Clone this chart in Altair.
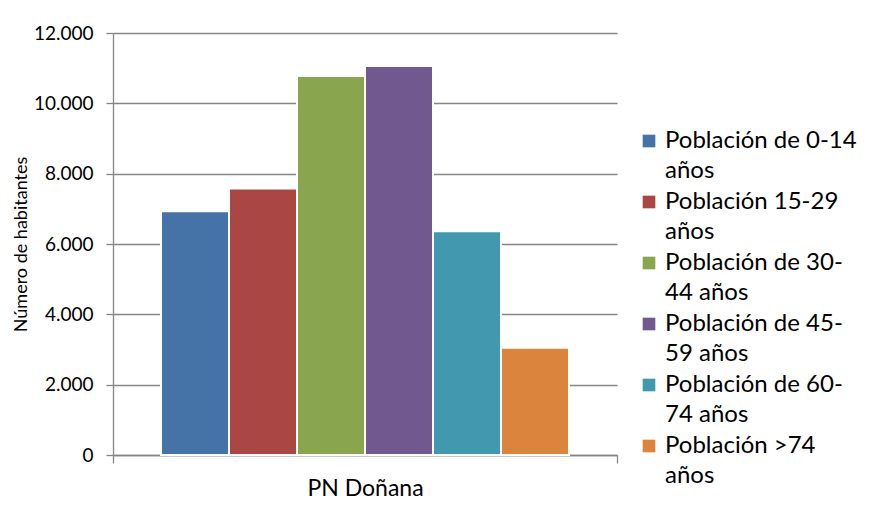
import json
import altair as alt
import pandas as pd

region = ["PN Doñana"]
groups = [
    "Población de 0-14 años",
    "Población 15-29 años",
    "Población de 30-44 años",
    "Población de 45-59 años",
    "Población de 60-74 años",
    "Población >74 años",
]
values = [6930, 7580, 10780, 11060, 6360, 3050]
colors = ["#4572A7", "#AA4643", "#89A54E", "#71588F", "#4198AF", "#DB843D"]
legend_lines = [
    ["Población de 0-14", "años"],
    ["Población 15-29", "años"],
    ["Población de 30-", "44 años"],
    ["Población de 45-", "59 años"],
    ["Población de 60-", "74 años"],
    ["Población >74", "años"],
]
y_ticks = [0, 2000, 4000, 6000, 8000, 10000, 12000]

df = pd.DataFrame({"region": region * len(groups), "group": groups, "value": values})

# legend label wrapping expression
expr = "datum.label"
for g, lines in reversed(list(zip(groups, legend_lines))):
    expr = f"datum.label == {json.dumps(g)} ? {json.dumps(lines)} : ({expr})"

FONT = "Lato"
GRAY = "#868686"

chart = (
    alt.Chart(df)
    .mark_bar(stroke="white", strokeWidth=2)
    .encode(
        x=alt.X(
            "region:N",
            title=None,
            scale=alt.Scale(paddingInner=0, paddingOuter=0),
            axis=alt.Axis(
                labelAngle=0,
                labelFontSize=23,
                labelFont=FONT,
                labelColor="black",
                labelPadding=14,
                domainColor=GRAY,
                domainWidth=1.3,
                tickColor=GRAY,
                tickWidth=1.3,
                tickSize=8,
                tickBand="extent",
                bandPosition=1,
                tickExtra=True,
                grid=False,
            ),
        ),
        xOffset=alt.XOffset(
            "group:N",
            sort=groups,
            scale=alt.Scale(paddingInner=0, paddingOuter=0.706),
        ),
        y=alt.Y(
            "value:Q",
            title="Número de habitantes",
            scale=alt.Scale(domain=[0, 12000]),
            axis=alt.Axis(
                values=y_ticks,
                labelExpr="replace(format(datum.value, ','), ',', '.')",
                labelFontSize=19,
                labelFont=FONT,
                labelColor="black",
                labelPadding=13,
                titleFont=FONT,
                titleFontSize=18,
                titleFontWeight="normal",
                titleColor="black",
                titlePadding=3,
                domainColor=GRAY,
                domainWidth=1.3,
                tickColor=GRAY,
                tickWidth=1.3,
                tickSize=7,
                grid=True,
                gridColor=GRAY,
                gridWidth=1.3,
            ),
        ),
        color=alt.Color(
            "group:N",
            sort=groups,
            scale=alt.Scale(domain=groups, range=colors),
            legend=alt.Legend(
                title=None,
                orient="none",
                legendX=524,
                legendY=96,
                symbolType="square",
                symbolSize=160,
                symbolStrokeWidth=0,
                labelFont=FONT,
                labelFontSize=24,
                labelColor="black",
                labelLimit=300,
                labelExpr=expr,
                rowPadding=7,
            ),
        ),
    )
    .properties(width=504, height=422, padding={"left": 4, "top": 16, "right": 0, "bottom": 0})
    .configure(style={"guide-label": {"lineHeight": 30}})
    .configure_view(stroke=None)
)

chart.save("out.html", embed_options={"renderer": "svg", "actions": False})
